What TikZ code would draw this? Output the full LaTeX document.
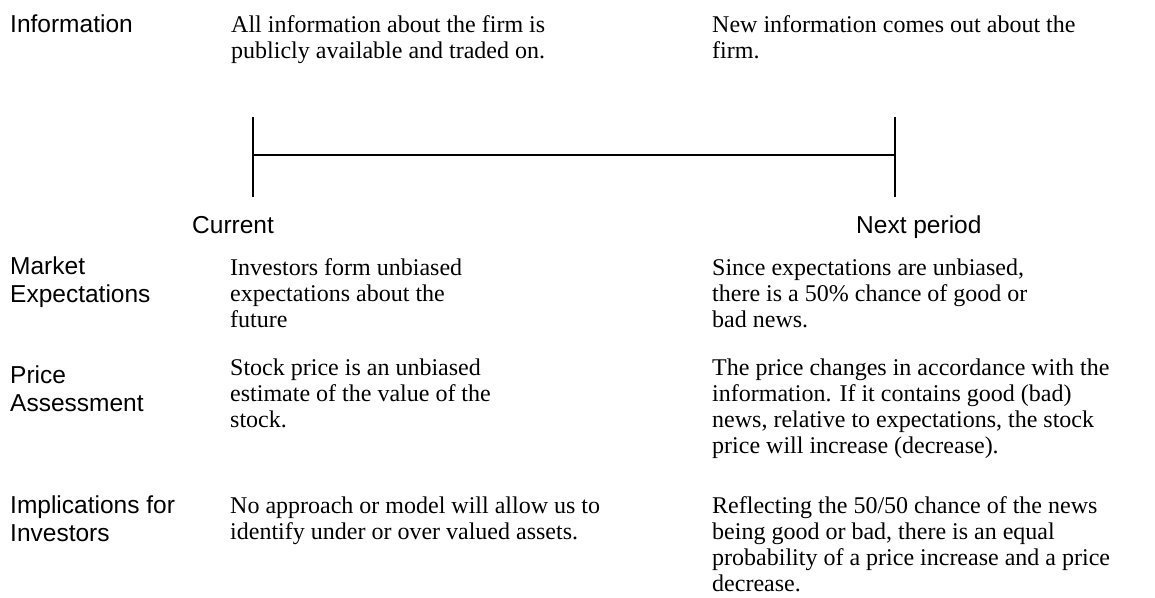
\documentclass[tikz,border=0pt]{standalone}
\usepackage{fontspec}
\setmainfont{Liberation Serif}
\setsansfont{Liberation Sans}
\begin{document}
\begin{tikzpicture}[x=1pt,y=-1pt,
  label/.style={anchor=base west,inner sep=0pt,align=left,font=\sffamily\fontsize{24.5}{28}\selectfont},
  body/.style={anchor=base west,inner sep=0pt,align=left,font=\rmfamily\fontsize{24}{26}\selectfont},
  axis/.style={line width=2.8pt,black}]
\useasboundingbox (0,0) rectangle (1155,597);
% row labels (positions are baselines of the last line)
\node[label] (linfo) at (10,32) {Information};
\node[label] (lmkt) at (10,302) {Market\\Expectations};
\node[label] (lprice) at (10,411) {Price\\Assessment};
\node[label] (limpl) at (10,541) {Implications for\\Investors};
% time line
\coordinate (ltop) at (253,117);
\coordinate (lbot) at (253,197);
\coordinate (rtop) at (895,117);
\coordinate (rbot) at (895,197);
\coordinate (lmid) at (253,155);
\coordinate (rmid) at (895,155);
\draw[axis] (ltop) -- (lbot);
\draw[axis] (rtop) -- (rbot);
\draw[axis] (lmid) -- (rmid);
\node[label] (cur) at (192,233) {Current};
\node[label] (nxt) at (856,233) {Next period};
% left column
\node[body] (c1) at (231,58) {All information about the firm is\\publicly available and traded on.};
\node[body] (c2) at (230,327) {Investors form unbiased\\expectations about the\\future};
\node[body] (c3) at (230,427) {Stock price is an unbiased\\estimate of the value of the\\stock.};
\node[body] (c4) at (230,539) {No approach or model will allow us to\\identify under or over valued assets.};
% right column
\node[body] (n1) at (712,58) {New information comes out about the\\firm.};
\node[body] (n2) at (712,327) {Since expectations are unbiased,\\there is a 50\% chance of good or\\bad news.};
\node[body] (n3) at (712,453) {The price changes in accordance with the\\information. If it contains good (bad)\\news, relative to expectations, the stock\\price will increase (decrease).};
\node[body] (n4) at (712,591) {Reflecting the 50/50 chance of the news\\being good or bad, there is an equal\\probability of a price increase and a price\\decrease.};
\end{tikzpicture}
\end{document}
